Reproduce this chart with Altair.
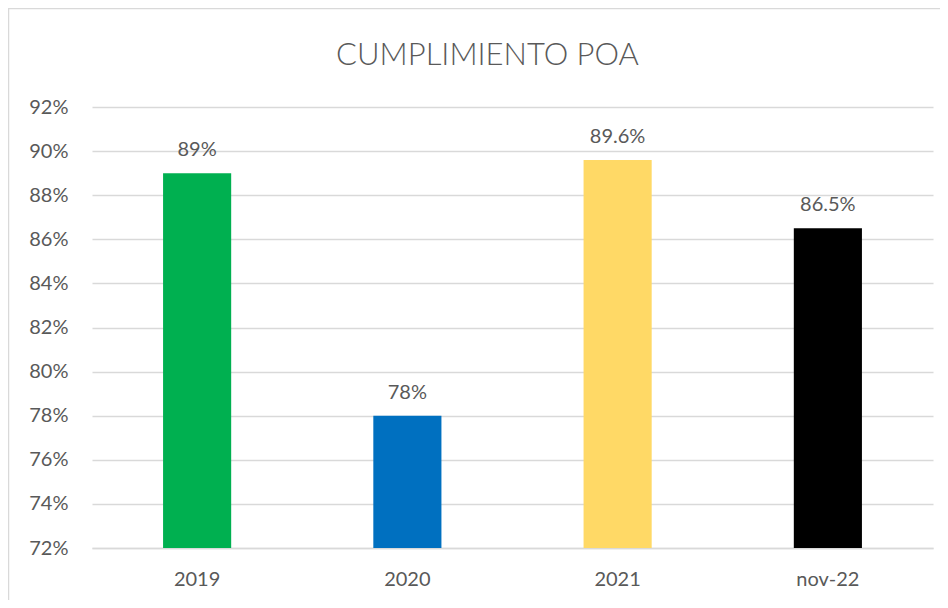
import altair as alt
import pandas as pd

categories = ["2019", "2020", "2021", "nov-22"]
values = [89, 78, 89.6, 86.5]
colors = ["#00B050", "#0070C0", "#FFD966", "#000000"]
y_ticks = [72, 74, 76, 78, 80, 82, 84, 86, 88, 90, 92]

df = pd.DataFrame({"cat": categories, "v": values})

W, H = 841, 441
FONT = "Lato"
GREY = "#595959"

x_enc = alt.X("cat:N", sort=categories, title=None,
              scale=alt.Scale(paddingInner=0.676, paddingOuter=0.338),
              axis=alt.Axis(labelAngle=0, ticks=False, labelPadding=21,
                            labelFontSize=20, labelFont=FONT, labelColor=GREY,
                            domainColor="#d9d9d9", domainWidth=1.5, grid=False))
y_enc = alt.Y("v:Q", title=None,
              scale=alt.Scale(domain=[72, 92], nice=False, zero=False, clamp=True),
              axis=alt.Axis(values=y_ticks, labelExpr="datum.value + '%'",
                            ticks=False, domain=False, labelPadding=24,
                            labelFontSize=20, labelFont=FONT, labelColor=GREY,
                            gridColor="#d9d9d9", gridWidth=1.5))

base = alt.Chart(df)

bars = base.mark_bar().encode(
    x=x_enc,
    y=y_enc,
    y2=alt.datum(72),
    color=alt.Color("cat:N", scale=alt.Scale(domain=categories, range=colors), legend=None),
)

labels = base.transform_calculate(
    lab="format(datum.v, '.1~f') + '%'"
).mark_text(dy=-17, baseline="alphabetic", fontSize=20, font=FONT, color=GREY).encode(
    x=alt.X("cat:N", sort=categories),
    y=alt.Y("v:Q"),
    text="lab:N",
)

border = alt.Chart(pd.DataFrame({"a": [0]})).mark_rect(
    fillOpacity=0, stroke="#d9d9d9", strokeWidth=1.5, clip=False
).encode(
    x=alt.value(-83.5), x2=alt.value(W + 200),
    y=alt.value(-98.5), y2=alt.value(H + 200),
)

chart = alt.layer(border, bars, labels).properties(
    width=W, height=H,
    title=alt.TitleParams("CUMPLIMIENTO POA", fontSize=31, font=FONT, color=GREY,
                          fontWeight=300, dx=-25, offset=-64, anchor="middle"),
    autosize=alt.AutoSizeParams(type="none"),
    padding={"left": 84, "top": 99, "right": 7, "bottom": 52},
).configure_view(strokeWidth=0)

chart.save("out.html", embed_options={"renderer": "svg", "actions": False})
